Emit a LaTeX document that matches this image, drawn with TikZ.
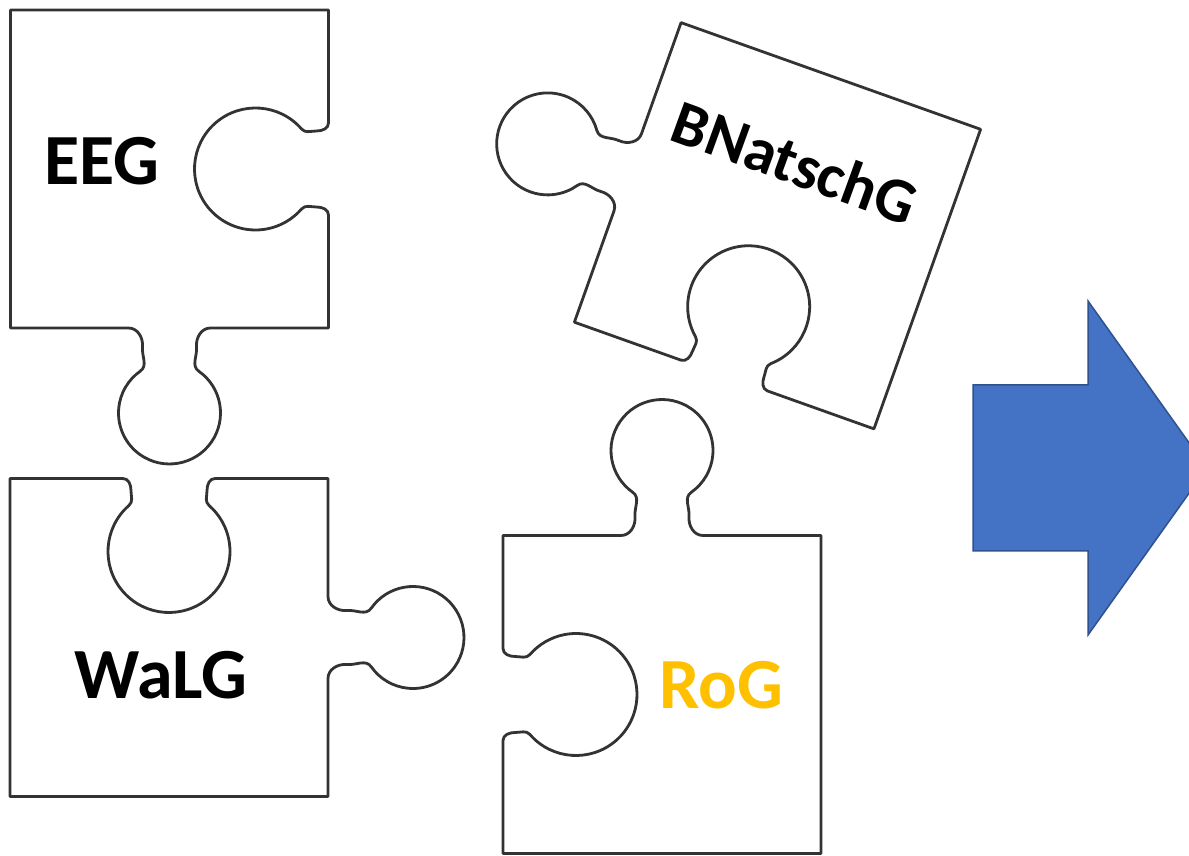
\documentclass[tikz,border=0pt]{standalone}
\usepackage{fontspec}
\setmainfont{Carlito}
\definecolor{piecegray}{HTML}{333333}
\definecolor{arrowblue}{HTML}{4472C4}
\definecolor{arrowedge}{HTML}{2F528F}
\definecolor{rogyellow}{HTML}{FFC000}
\tikzset{
  outline/.style={draw=piecegray, line width=2.8pt, fill=white, line join=round},
  piece/.pic={\path[outline] (-159,159) -- (159,159) -- (159,46)
     to[out=-90,in=0] (147,38) to[out=180,in=-49] (132.04,40.02)
     arc[start angle=41,end angle=319,radius=61]
     to[out=49,in=180] (147,-38) to[out=0,in=90] (159,-46)
     -- (159,-159) -- (41,-159)
     to[out=180,in=95] (27,-178) to[out=275,in=145] (29.25,-202.2)
     arc[start angle=55,end angle=-235,radius=51]
     to[out=35,in=265] (-27,-178) to[out=85,in=0] (-41,-159)
     -- (-159,-159) -- cycle;},
  piecetext/.style={font=\fontsize{72}{80}\selectfont\bfseries, inner sep=0pt},
  bigarrow/.style={fill=arrowblue, draw=arrowedge, line width=1.5pt, line join=miter}
}
\begin{document}
\begin{tikzpicture}[x=1pt,y=1pt]
\useasboundingbox (0,0) rectangle (1189,855);
\clip (0,0) rectangle (1189,855);
\fill[white] (0,0) rectangle (1189,855);
\pic at (169.5,686) {piece};
\pic[rotate=90] at (169,217.5) {piece};
\pic[rotate=180] at (662,160.5) {piece};
\pic[rotate=-109.6] at (777.5,629.25) {piece};
\node[piecetext] (eeg) at (102,694) {EEG};
\node[piecetext] (walg) at (161,180) {WaLG};
\node[piecetext, text=rogyellow] (rog) at (721,170) {RoG};
\node[piecetext, font=\fontsize{63}{70}\selectfont\bfseries, rotate=-20] (bnat) at (795,693) {BNatschG};
\draw[bigarrow] (973,470) -- (1088,470) -- (1088,554) -- (1207,387) -- (1088,220) -- (1088,304) -- (973,304) -- cycle;
\end{tikzpicture}
\end{document}
